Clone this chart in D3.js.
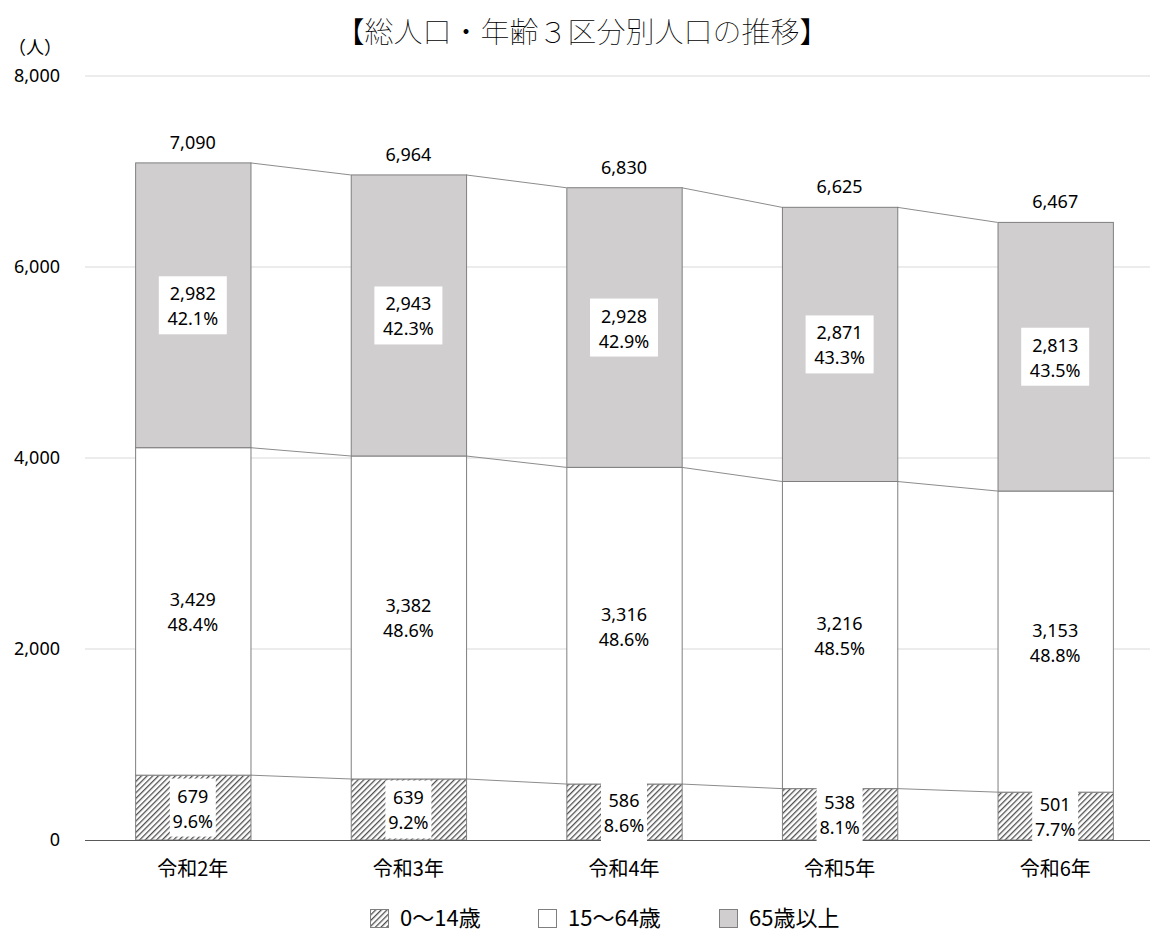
<!DOCTYPE html>
<html lang="ja">
<head>
<meta charset="UTF-8">
<title>総人口・年齢3区分別人口の推移</title>
<style>
    body { margin: 0; background: #fff; }
    svg text { font-family: "Noto Sans", "Noto Sans CJK JP", sans-serif; fill: #000; }
    .jp { font-family: "Noto Sans CJK JP", sans-serif; }
</style>
</head>
<body>
<svg id="chart" width="1159" height="943"></svg>
<script src="https://d3js.org/d3.v7.min.js"></script>
<script>
const categories = ["令和2年", "令和3年", "令和4年", "令和5年", "令和6年"];
const young = [679, 639, 586, 538, 501];
const working = [3429, 3382, 3316, 3216, 3153];
const elderly = [2982, 2943, 2928, 2871, 2813];
const totals = [7090, 6964, 6830, 6625, 6467];
const youngPct = ["9.6%", "9.2%", "8.6%", "8.1%", "7.7%"];
const workingPct = ["48.4%", "48.6%", "48.6%", "48.5%", "48.8%"];
const elderlyPct = ["42.1%", "42.3%", "42.9%", "43.3%", "43.5%"];
const yTicks = [0, 2000, 4000, 6000, 8000];
const seriesNames = ["0〜14歳", "15〜64歳", "65歳以上"];

const svg = d3.select("#chart");
const plotLeft = 85, plotRight = 1163, plotTop = 76, plotBottom = 840;

const x = d3.scaleBand().domain(categories).range([plotLeft, plotRight]).paddingInner(0.465).paddingOuter(0.2325);
const y = d3.scaleLinear().domain([0, 8000]).range([plotBottom, plotTop]);

// hatch pattern
const defs = svg.append("defs");
const pat = defs.append("pattern")
    .attr("id", "hatch")
    .attr("patternUnits", "userSpaceOnUse")
    .attr("width", 4).attr("height", 4)
    .attr("patternTransform", "rotate(45)");
pat.append("rect").attr("width", 4).attr("height", 4).attr("fill", "#fff");
pat.append("rect").attr("x", 0).attr("width", 1.3).attr("height", 4).attr("fill", "#505050");

// title
svg.append("text").attr("class", "jp")
    .attr("x", 582).attr("y", 43)
    .attr("text-anchor", "middle")
    .attr("font-size", 29).attr("font-weight", 100)
    .text("【総人口・年齢３区分別人口の推移】");

svg.append("text").attr("class", "jp")
    .attr("x", 8).attr("y", 54)
    .attr("font-size", 18)
    .text("（人）");

// gridlines
svg.append("g").selectAll("line")
    .data(yTicks.filter(d => d > 0))
    .enter().append("line")
    .attr("x1", plotLeft).attr("x2", 1150)
    .attr("y1", d => y(d)).attr("y2", d => y(d))
    .attr("stroke", "#d9d9d9").attr("stroke-width", 1);

// y axis labels
svg.append("g").selectAll("text")
    .data(yTicks)
    .enter().append("text")
    .attr("x", 60).attr("y", d => y(d) + 6)
    .attr("text-anchor", "end")
    .attr("font-size", 18)
    .text(d => d3.format(",")(d));

// stacked data
const rows = categories.map((c, i) => ({
    cat: c,
    segs: [
        { y0: 0, y1: young[i], fill: "url(#hatch)", v: young[i], p: youngPct[i], box: true },
        { y0: young[i], y1: young[i] + working[i], fill: "#fff", v: working[i], p: workingPct[i], box: false },
        { y0: young[i] + working[i], y1: totals[i], fill: "#d0cece", v: elderly[i], p: elderlyPct[i], box: true }
    ]
}));

// series connector lines
[0, 1, 2].forEach(k => {
    for (let i = 0; i < categories.length - 1; i++) {
        svg.append("line")
            .attr("x1", x(categories[i]) + x.bandwidth())
            .attr("x2", x(categories[i + 1]))
            .attr("y1", y(rows[i].segs[k].y1))
            .attr("y2", y(rows[i + 1].segs[k].y1))
            .attr("stroke", "#8c8c8c").attr("stroke-width", 1);
    }
});

// bars
const barG = svg.append("g").selectAll("g").data(rows).enter().append("g");
barG.selectAll("rect")
    .data(d => d.segs.map(s => ({ ...s, cat: d.cat })))
    .enter().append("rect")
    .attr("x", d => x(d.cat) + 0.5)
    .attr("y", d => y(d.y1))
    .attr("width", x.bandwidth())
    .attr("height", d => y(d.y0) - y(d.y1))
    .attr("fill", d => d.fill)
    .attr("stroke", "#7f7f7f").attr("stroke-width", 1);

// x axis line
svg.append("line")
    .attr("x1", plotLeft).attr("x2", 1150)
    .attr("y1", plotBottom + 0.5).attr("y2", plotBottom + 0.5)
    .attr("stroke", "#595959").attr("stroke-width", 1);

// segment labels
rows.forEach((r, i) => {
    r.segs.forEach((s, k) => {
        const cx = x(r.cat) + x.bandwidth() / 2;
        const cy = y((s.y0 + s.y1) / 2);
        const g = svg.append("g");
        if (s.box) {
            const w = k === 0 ? 46 : 68;
            g.append("rect")
                .attr("x", cx - w / 2).attr("y", cy - 29)
                .attr("width", w).attr("height", 58)
                .attr("fill", "#fff");
        }
        g.append("text").attr("x", cx).attr("y", cy - 5)
            .attr("text-anchor", "middle").attr("font-size", 18)
            .text(d3.format(",")(s.v));
        g.append("text").attr("x", cx).attr("y", cy + 20)
            .attr("text-anchor", "middle").attr("font-size", 18)
            .text(s.p);
    });
    svg.append("text")
        .attr("x", x(r.cat) + x.bandwidth() / 2)
        .attr("y", y(totals[i]) - 14)
        .attr("text-anchor", "middle").attr("font-size", 18)
        .text(d3.format(",")(totals[i]));
});

// category labels
svg.append("g").selectAll("text")
    .data(categories)
    .enter().append("text").attr("class", "jp")
    .attr("x", d => x(d) + x.bandwidth() / 2)
    .attr("y", 876)
    .attr("text-anchor", "middle").attr("font-size", 20)
    .text(d => d);

// legend
const legendX = [370, 538, 719];
const legendFill = ["url(#hatch)", "#fff", "#d0cece"];
const lg = svg.append("g").selectAll("g")
    .data(seriesNames)
    .enter().append("g")
    .attr("transform", (d, i) => `translate(${legendX[i]},909)`);
lg.append("rect")
    .attr("x", 0.5).attr("y", 0.5)
    .attr("width", 18).attr("height", 18)
    .attr("fill", (d, i) => legendFill[i])
    .attr("stroke", "#7f7f7f");
lg.append("text").attr("class", "jp")
    .attr("x", 30).attr("y", 17)
    .attr("font-size", 22)
    .text(d => d);
</script>
</body>
</html>
